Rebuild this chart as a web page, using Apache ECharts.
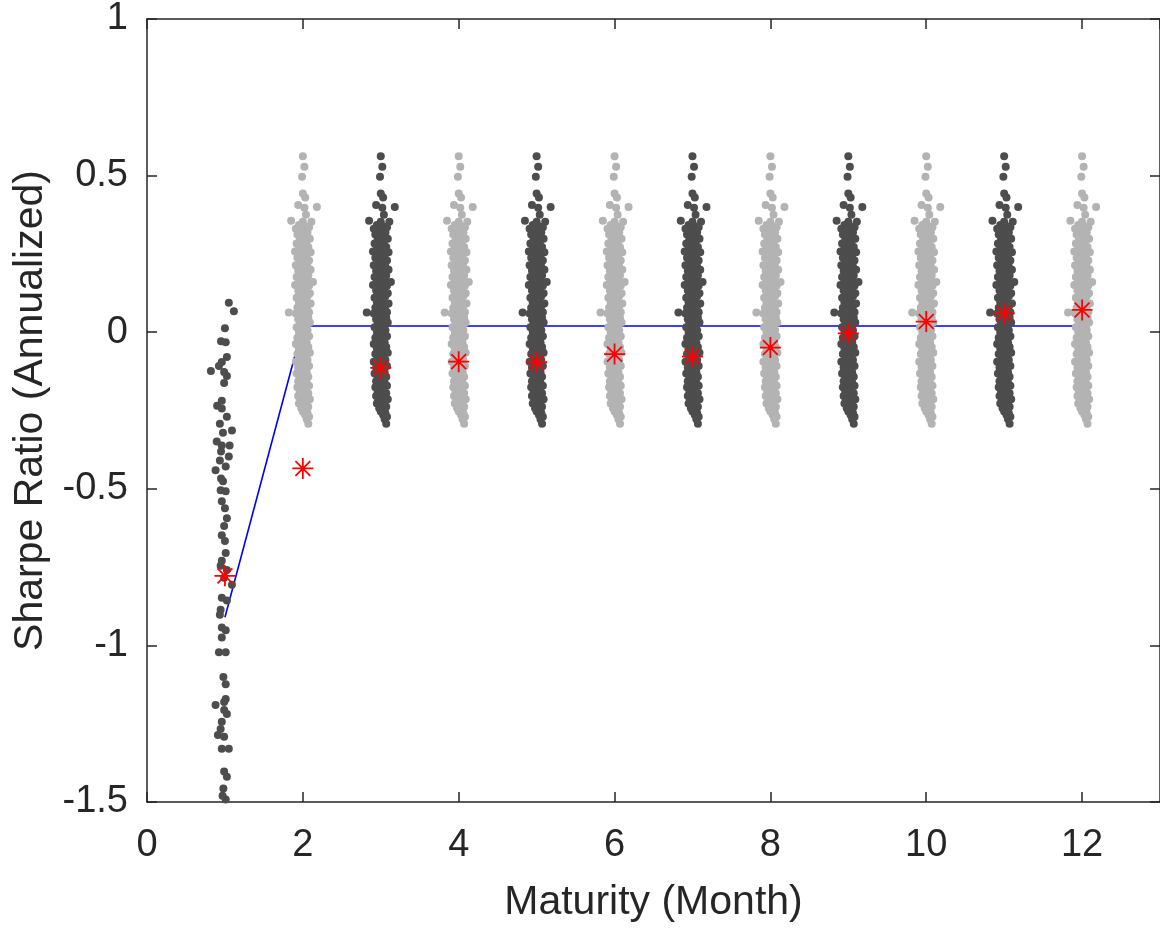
<!DOCTYPE html>
<html>
<head>
<meta charset="utf-8">
<script src="https://cdn.jsdelivr.net/npm/echarts@6/dist/echarts.min.js"></script>
<style>
  html, body { margin: 0; padding: 0; background: #ffffff; }
  #chart { width: 1160px; height: 928px; }
</style>
</head>
<body>
<div id="chart"></div>
<script>
// ---------------- data ----------------
const months = [1, 2, 3, 4, 5, 6, 7, 8, 9, 10, 11, 12];
const meanSharpe = [-0.778, -0.435, -0.114, -0.094, -0.096, -0.070, -0.078, -0.049, -0.004, 0.034, 0.060, 0.071];
const fitLineX = [1, 2, 12];
const fitLineY = [-0.91, 0.02, 0.02];

// month 1 observations: [x jitter, Sharpe ratio]
const month1Points = [
  [0.05,0.094],[0.115,0.067],[0.0,0.013],[-0.05,-0.029],[0.01,-0.032],[0.025,-0.079],[-0.04,-0.095],
  [-0.077,-0.108],[-0.18,-0.124],[-0.01,-0.127],[0.025,-0.14],[-0.01,-0.162],[-0.04,-0.219],[-0.1,-0.235],
  [-0.04,-0.244],[0.025,-0.27],[-0.065,-0.292],[0.09,-0.314],[-0.025,-0.321],[-0.105,-0.349],[-0.04,-0.362],
  [0.06,-0.362],[-0.05,-0.381],[0.05,-0.397],[-0.065,-0.41],[0.01,-0.429],[-0.12,-0.441],[-0.05,-0.467],
  [-0.025,-0.476],[-0.055,-0.505],[0.01,-0.508],[-0.04,-0.54],[0.0,-0.562],[0.025,-0.594],[-0.01,-0.619],
  [-0.04,-0.648],[0.0,-0.667],[0.01,-0.705],[-0.04,-0.73],[-0.055,-0.746],[0.025,-0.759],[-0.01,-0.784],
  [0.09,-0.806],[-0.04,-0.848],[0.025,-0.857],[-0.055,-0.886],[-0.065,-0.902],[-0.04,-0.943],[0.01,-0.952],
  [-0.04,-0.975],[-0.077,-1.022],[0.01,-1.022],[-0.02,-1.101],[0.01,-1.124],[0.01,-1.171],[-0.12,-1.19],
  [-0.01,-1.181],[-0.01,-1.206],[0.025,-1.219],[-0.04,-1.244],[-0.055,-1.267],[-0.09,-1.286],[-0.01,-1.292],
  [-0.04,-1.33],[0.05,-1.33],[-0.01,-1.403],[0.025,-1.419],[-0.02,-1.457],[0.01,-1.492],[-0.03,-1.48]
];

// months 2-12 observations (same pattern read from each cluster): [x jitter, Sharpe ratio]
const clusterPoints = [
  [0.0,0.562],[0.02,0.528],[-0.01,0.496],[0.0,0.443],[0.03,0.43],[-0.06,0.406],[0.18,0.40],[0.02,0.397],
  [0.04,0.375],[-0.15,0.356],[0.0,0.353],[0.11,0.353],
  [-0.05,0.342],[0.03,0.338],[0.08,0.335],[-0.09,0.33],
  [-0.02,0.322],[0.06,0.318],[-0.07,0.312],[0.01,0.305],
  [0.09,0.298],[-0.04,0.295],[0.04,0.288],[-0.08,0.283],[0.0,0.278],
  [0.07,0.272],[-0.05,0.266],[0.02,0.262],[-0.1,0.258],[0.1,0.255],
  [-0.02,0.249],[0.05,0.243],[-0.07,0.238],[0.0,0.233],[0.08,0.229],
  [-0.04,0.224],[0.03,0.219],[-0.09,0.214],[0.06,0.21],[-0.01,0.205],
  [0.1,0.199],[-0.06,0.196],[0.02,0.191],[-0.03,0.185],[0.07,0.181],
  [-0.08,0.176],[0.0,0.172],[0.05,0.166],[-0.05,0.162],[0.13,0.16],[0.03,0.156],
  [-0.1,0.151],[0.08,0.148],[-0.02,0.143],[0.04,0.138],[-0.06,0.133],
  [0.01,0.128],[0.09,0.124],[-0.04,0.12],[0.06,0.115],[-0.08,0.11],
  [0.0,0.105],[0.03,0.1],[-0.05,0.096],[0.1,0.092],[-0.01,0.087],
  [0.06,0.083],[-0.07,0.078],[0.02,0.074],[-0.03,0.069],[0.08,0.064],[-0.18,0.063],
  [-0.09,0.06],[0.04,0.056],[-0.01,0.051],[0.07,0.046],[-0.06,0.041],
  [0.01,0.036],[0.09,0.031],[-0.04,0.026],[0.05,0.021],[-0.08,0.016],
  [0.0,0.011],[0.06,0.006],[-0.05,0.001],[0.03,-0.004],[-0.02,-0.009],
  [0.08,-0.013],[-0.07,-0.018],[0.02,-0.023],[-0.03,-0.028],[0.05,-0.033],
  [-0.09,-0.038],[0.0,-0.042],[0.07,-0.047],[-0.05,-0.052],[0.03,-0.056],
  [-0.02,-0.061],[0.09,-0.066],[-0.07,-0.07],[0.04,-0.075],[0.0,-0.08],
  [-0.04,-0.085],[0.06,-0.089],[-0.09,-0.094],[0.02,-0.099],[-0.01,-0.104],
  [0.08,-0.108],[-0.06,-0.113],[0.03,-0.118],[-0.03,-0.123],[0.05,-0.128],
  [-0.08,-0.132],[0.0,-0.137],[0.07,-0.142],[-0.04,-0.147],[0.02,-0.152],
  [-0.06,-0.157],[0.05,-0.161],[-0.02,-0.166],[0.08,-0.171],[-0.07,-0.176],
  [0.01,-0.18],[0.04,-0.185],[-0.04,-0.19],[0.07,-0.195],[-0.01,-0.2],
  [-0.06,-0.204],[0.03,-0.209],[0.09,-0.214],[-0.03,-0.219],[0.05,-0.224],
  [-0.05,-0.228],[0.01,-0.233],[0.07,-0.238],[-0.02,-0.243],[0.04,-0.248],
  [0.0,-0.253],[0.06,-0.258],[0.03,-0.264],[0.08,-0.27],[0.05,-0.278],[0.07,-0.292]
];

const xAxisName = 'Maturity (Month)';
const yAxisName = 'Sharpe Ratio (Annualized)';

// ---------------- styles ----------------
const FONT = 'Liberation Sans, Arial, Helvetica, sans-serif';
const INK = '#262626';
const DARK = '#4d4d4d';
const LIGHT = '#b3b3b3';

const series = [];

series.push({
  type: 'line',
  data: fitLineX.map((x, i) => [x, fitLineY[i]]),
  symbol: 'none',
  lineStyle: { color: '#0000ff', width: 1.6 },
  z: 1,
  silent: true
});

months.forEach((m) => {
  const pts = m === 1 ? month1Points : clusterPoints;
  series.push({
    type: 'scatter',
    data: pts.map(p => [m + p[0], p[1]]),
    symbol: 'circle',
    symbolSize: 8,
    itemStyle: { color: (m % 2 === 1) ? DARK : LIGHT, opacity: 1 },
    z: 2,
    silent: true
  });
});

series.push({
  type: 'scatter',
  data: months.map((m, i) => [m, meanSharpe[i]]),
  symbol: 'path://M0,-10L0,10M-10,0L10,0M-7.07,-7.07L7.07,7.07M-7.07,7.07L7.07,-7.07',
  symbolSize: 21,
  itemStyle: { color: 'rgba(0,0,0,0)', borderColor: '#ff0000', borderWidth: 1.8, opacity: 1 },
  z: 5,
  silent: true
});

const axisLine = { show: true, onZero: false, lineStyle: { color: INK, width: 1.5 } };
const axisTick = { show: true, inside: true, length: 10, lineStyle: { color: INK, width: 1.5 } };

const option = {
  animation: false,
  backgroundColor: '#ffffff',
  grid: { left: 147, top: 18, right: -3, bottom: 123, containLabel: false },
  xAxis: [
    {
      type: 'value', min: 0, max: 13, interval: 2, position: 'bottom',
      axisLine, axisTick,
      splitLine: { show: false },
      axisLabel: { color: INK, fontFamily: FONT, fontSize: 38, margin: 25, showMaxLabel: false },
      name: xAxisName, nameLocation: 'middle', nameGap: 80,
      nameTextStyle: { color: INK, fontFamily: FONT, fontSize: 41 }
    },
    {
      type: 'value', min: 0, max: 13, interval: 2, position: 'top',
      axisLine, axisTick,
      splitLine: { show: false },
      axisLabel: { show: false }
    }
  ],
  yAxis: [
    {
      type: 'value', min: -1.5, max: 1, interval: 0.5, position: 'left',
      axisLine, axisTick,
      splitLine: { show: false },
      axisLabel: { color: INK, fontFamily: FONT, fontSize: 38, margin: 19 },
      name: yAxisName, nameLocation: 'middle', nameGap: 96,
      nameTextStyle: { color: INK, fontFamily: FONT, fontSize: 41 }
    },
    {
      type: 'value', min: -1.5, max: 1, interval: 0.5, position: 'right',
      axisLine, axisTick,
      splitLine: { show: false },
      axisLabel: { show: false }
    }
  ],
  series
};

const chart = echarts.init(document.getElementById('chart'), null, { renderer: 'canvas' });
chart.setOption(option);
</script>
</body>
</html>
